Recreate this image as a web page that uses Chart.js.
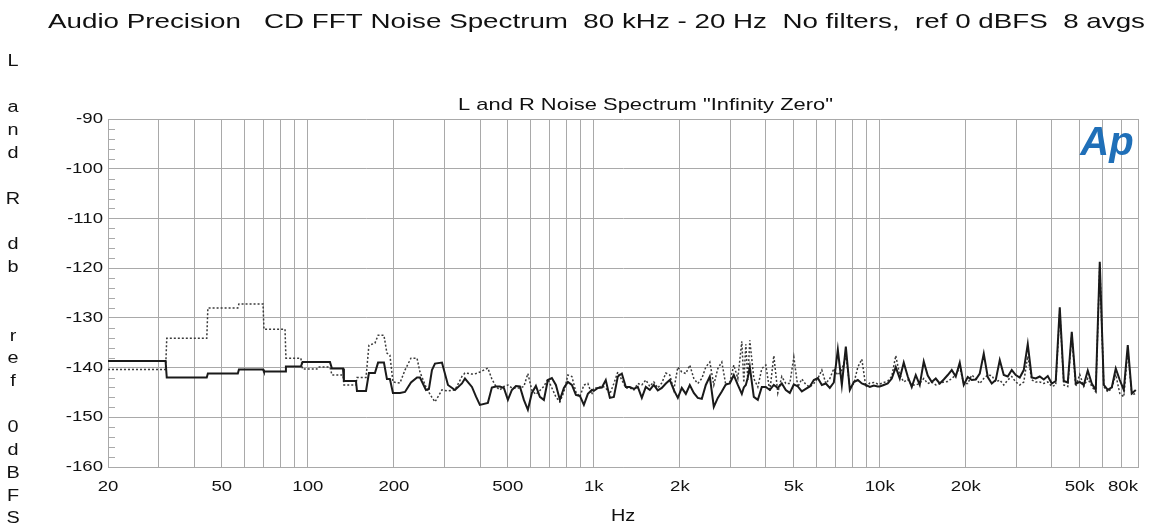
<!DOCTYPE html>
<html>
<head>
<meta charset="utf-8">
<title>CD FFT Noise Spectrum</title>
<script src="https://cdn.jsdelivr.net/npm/chart.js@4.4.1/dist/chart.umd.min.js"></script>
<style>
  html, body { margin: 0; padding: 0; background: #fff; }
  #wrap { width: 1158px; height: 527px; }
</style>
</head>
<body>
<div id="wrap"><canvas id="spectrum" width="1158" height="527"></canvas></div>
<script>
// FFT bin frequencies (Hz) shared by both channels
const freqs = [
  20, 31.8, 32.1, 44.3, 44.7, 56.9, 57.4, 69.7, 70.2, 83.2, 83.8, 94.5, 95.8, 107.6, 108.5, 119.5,
  121.4, 132.7, 133.7, 147.3, 148.5, 159.7, 163.5, 171.6, 176.0, 184.5, 189.0, 193.6, 198.4, 209.9,
  218.6, 229.4, 240.8, 246.6, 258.8, 265.1, 271.6, 278.3, 294.4, 309.0, 326.9, 345.8, 354.3, 374.8,
  387.0, 399.6, 426.1,
  440.0, 454.4, 469.3, 484.7, 500.6, 516.9, 533.9, 551.3, 569.4, 588.0, 607.3, 627.2, 647.7, 668.9,
  690.8, 713.4, 736.8, 760.9, 785.8, 811.5, 838.1, 865.5, 893.9, 923.1, 953.3, 984.0,
  1000, 1033, 1067, 1101, 1138, 1175, 1213, 1253, 1294, 1336, 1380, 1425, 1472, 1520, 1570, 1621,
  1674, 1729, 1786, 1844, 1904, 1967, 2031, 2098, 2166, 2237, 2310, 2386, 2464, 2545, 2628, 2714,
  2803, 2895, 2990, 3087, 3189, 3293, 3346, 3401, 3456, 3512, 3627, 3746, 3868, 3995, 4126, 4261,
  4400, 4544, 4693, 4847, 5006, 5169, 5339, 5513, 5694, 5880, 6073, 6272, 6477, 6689, 6908, 7134,
  7368, 7609, 7858, 8115, 8381, 8655, 8939, 9231, 9533, 9840,
  10000, 10327, 10665, 11014, 11375, 11747, 12131, 12528, 12938, 13362, 13799, 14251, 14717, 15199,
  15696, 16210, 16741, 17289, 17855, 18440, 19043, 19667, 20311, 20976, 21662, 22372, 23104, 23860,
  24642, 25448, 26281, 27142, 28030, 28948, 29896, 30874, 31885, 32929, 34007, 35120, 36270, 37457,
  38684, 39950, 41258, 42609, 44004, 45444, 46932, 48469, 50055, 51694, 53386, 55134, 56939, 58803,
  60728, 62716, 64769, 66890, 69079, 71341, 73676, 76088, 78579
];

// Left channel, dBFS (solid)
const leftDb = [
  -138.7, -138.7, -142.0, -142.0, -141.2, -141.2, -140.4, -140.4, -140.8, -140.8, -139.8, -139.8, -138.9, -138.9, -138.9, -138.9,
  -140.2, -140.2, -142.7, -142.7, -144.7, -144.7, -141.1, -141.1, -139.0, -139.0, -142.3, -142.3, -145.1, -145.1,
  -144.9, -143.0, -142.0, -142.0, -144.5, -144.3, -140.5, -139.2, -139.0, -143.5, -144.5, -143.2, -142.2, -143.9,
  -145.8, -147.5, -147.1,
  -144.0, -143.8, -143.8, -144.1, -146.5, -144.5, -143.7, -143.8, -146.5, -148.5, -145.1, -143.7, -145.9, -146.5,
  -142.5, -142.1, -143.5, -146.5, -144.1, -142.9, -143.5, -145.5, -145.7, -147.5, -145.3, -144.5,
  -144.7, -144.1, -144.0, -142.5, -146.1, -145.9, -141.8, -141.2, -143.9, -143.9, -144.3, -143.9, -146.1, -143.9, -144.5, -143.5,
  -144.6, -144.1, -143.2, -142.5, -144.5, -146.1, -144.1, -145.3, -143.5, -145.1, -146.1, -146.3, -143.5, -141.8, -147.9, -146.1,
  -144.8, -143.4, -143.2, -141.5, -143.5, -145.3, -144.0, -143.5, -142.0, -139.9, -145.9, -146.5, -143.9, -143.9, -144.5, -143.5,
  -144.1, -143.2, -144.5, -145.1, -143.4, -143.8, -144.8, -144.3, -143.8, -142.5, -142.1, -143.5, -143.2, -144.1, -143.0, -136.4,
  -143.5, -135.8, -144.5, -142.9, -142.5, -143.2, -143.5, -143.9, -143.6, -143.8,
  -143.8, -143.5, -143.2, -142.2, -139.9, -142.2, -139.0, -141.8, -143.9, -141.5, -143.5, -138.8, -141.6, -142.9,
  -142.2, -143.2, -142.4, -141.5, -140.5, -141.8, -139.0, -143.5, -141.9, -142.5, -142.4, -141.2, -137.2, -141.9,
  -143.2, -142.5, -138.5, -141.5, -141.8, -140.5, -141.5, -142.0, -140.5, -135.3, -142.0, -142.2, -141.8, -142.4,
  -141.7, -143.2, -142.7, -127.9, -142.7, -143.0, -132.8, -143.2, -142.9, -143.5, -140.6, -143.2, -144.5, -118.7,
  -143.5, -144.5, -144.0, -140.2, -142.5, -144.5, -135.5, -145.2, -144.5
];

// Right channel, dBFS (dotted)
const rightDb = [
  -140.4, -140.4, -134.1, -134.1, -128.0, -128.0, -127.2, -127.2, -132.3, -132.3, -138.1, -138.1, -140.3, -140.3, -139.9, -139.9,
  -141.5, -141.5, -143.5, -143.5, -142.0, -142.0, -135.5, -135.1, -133.5, -133.5, -137.1, -137.5, -142.9, -143.1,
  -140.5, -138.1, -138.1, -140.9, -143.9, -145.0, -146.0, -146.9, -144.5, -144.7, -144.5, -141.8, -141.1, -141.3,
  -141.2, -140.9, -140.1,
  -142.3, -143.8, -144.5, -143.8, -143.5, -144.1, -144.1, -144.1, -143.8, -141.2, -144.6, -145.4, -144.6, -143.8,
  -142.3, -144.1, -145.9, -146.9, -144.9, -141.5, -141.8, -144.9, -145.9, -143.5, -143.2, -145.4,
  -144.1, -144.1, -143.7, -144.1, -145.3, -143.2, -140.9, -142.5, -144.1, -144.1, -144.5, -143.2, -143.5, -142.5, -143.8, -142.9,
  -144.1, -143.1, -141.1, -141.5, -144.5, -139.9, -140.9, -141.2, -139.5, -142.2, -143.2, -142.2, -139.9, -138.9, -143.5, -140.2,
  -138.9, -143.5, -142.9, -139.5, -142.2, -134.7, -143.0, -135.3, -142.5, -134.5, -142.2, -143.9, -140.2, -139.5, -144.8, -137.6,
  -145.1, -141.8, -143.2, -143.2, -137.9, -143.9, -142.3, -143.4, -143.9, -143.2, -142.2, -140.5, -143.2, -142.2, -140.2, -141.5,
  -140.5, -137.5, -143.9, -143.2, -139.9, -138.3, -143.9, -143.1, -143.0, -143.3,
  -143.3, -143.0, -142.7, -141.8, -137.6, -141.5, -142.9, -142.4, -143.5, -143.5, -143.2, -142.2, -143.2, -142.9,
  -143.5, -143.2, -142.9, -142.8, -142.2, -141.5, -139.9, -143.2, -143.2, -141.5, -142.2, -143.2, -142.2, -141.5,
  -141.6, -142.9, -142.5, -143.5, -142.5, -141.8, -142.9, -143.5, -142.9, -137.7, -142.5, -142.9, -142.9, -143.2,
  -142.9, -143.8, -143.5, -128.5, -143.5, -143.8, -133.5, -143.8, -141.4, -143.8, -142.2, -143.8, -144.9, -119.2,
  -143.8, -144.9, -144.2, -141.4, -145.2, -145.9, -136.5, -145.5, -145.2
];

// vertical grid positions and labelled ticks
const gridHz = [
  20, 30, 40, 50, 60, 70, 80, 90,
  100, 200, 300, 400, 500, 600, 700, 800, 900,
  1000, 2000, 3000, 4000, 5000, 6000, 7000, 8000, 9000,
  10000, 20000, 30000, 40000, 50000, 60000, 70000, 80000
];
const xTickHz = [20, 50, 100, 200, 500, 1000, 2000, 5000, 10000, 20000, 50000, 80000];
const xTickText = ["20", "50", "100", "200", "500", "1k", "2k", "5k", "10k", "20k", "50k", "80k"];
const yTicks = [-90, -100, -110, -120, -130, -140, -150, -160];

const mainTitle = "Audio Precision   CD FFT Noise Spectrum  80 kHz - 20 Hz  No filters,  ref 0 dBFS  8 avgs";
const subTitle = 'L and R Noise Spectrum "Infinity Zero"';
const sideLabel = ["L", "", "a", "n", "d", "", "R", "", "d", "b", "", "", "r", "e", "f", "", "0", "d", "B", "F", "S"];

const FONT = '"Liberation Sans", Arial, Helvetica, sans-serif';
const GRID = "#a9a9a9";
const INK = "#111";
const WIDE = 1.24; // the original lettering is drawn wide

if (freqs.length !== leftDb.length || freqs.length !== rightDb.length) {
	console.error("length mismatch", freqs.length, leftDb.length, rightDb.length);
}

function wideText(ctx, text, x, y, sx, align) {
	ctx.save();
	ctx.translate(x, y);
	ctx.scale(sx, 1);
	ctx.textAlign = align;
	ctx.fillText(text, 0, 0);
	ctx.restore();
}

const textPlugin = {
	id: "apText",
	beforeDatasetsDraw(chart) {
		// short minor ticks every 2 dB along the left axis
		const ctx = chart.ctx;
		const area = chart.chartArea;
		const y = chart.scales.y;
		ctx.save();
		ctx.strokeStyle = GRID;
		ctx.lineWidth = 1;
		for (let v = -158; v < -90; v += 2) {
			if (v % 10 === 0) continue;
			const py = Math.round(y.getPixelForValue(v)) + 0.5;
			ctx.beginPath();
			ctx.moveTo(area.left, py);
			ctx.lineTo(area.left + 7, py);
			ctx.stroke();
		}
		ctx.restore();
	},
	afterDraw(chart) {
		const ctx = chart.ctx;
		const area = chart.chartArea;
		const xs = chart.scales.x;
		const ys = chart.scales.y;
		ctx.save();
		ctx.fillStyle = INK;
		ctx.textBaseline = "middle";

		// header, stretched to span the page like the original
		ctx.font = "21px " + FONT;
		const tw = ctx.measureText(mainTitle).width;
		wideText(ctx, mainTitle, 48, 22, 1097 / tw, "left");

		ctx.font = "17px " + FONT;
		const sw = ctx.measureText(subTitle).width;
		wideText(ctx, subTitle, 458, 105, 375 / sw, "left");

		// tick labels at the scale positions; the last one is kept inside the frame
		ctx.font = "15px " + FONT;
		xTickHz.forEach((v, i) => {
			const last = i === xTickHz.length - 1;
			const px = last ? area.right : xs.getPixelForValue(v);
			wideText(ctx, xTickText[i], px, 487, WIDE, last ? "right" : "center");
		});
		yTicks.forEach((v) => wideText(ctx, String(v), area.left - 5, ys.getPixelForValue(v), WIDE, "right"));

		ctx.font = "16px " + FONT;
		wideText(ctx, "Hz", (area.left + area.right) / 2, 517, WIDE, "center");
		sideLabel.forEach((ch, i) => wideText(ctx, ch, 13, 62 + i * 22.85, WIDE, "center"));

		ctx.font = "italic bold 40px " + FONT;
		ctx.fillStyle = "#1f6fb8";
		ctx.textBaseline = "alphabetic";
		ctx.textAlign = "center";
		ctx.fillText("Ap", 1107, 155);
		ctx.restore();
	},
};

new Chart(document.getElementById("spectrum"), {
	type: "line",
	data: {
		datasets: [
			{
				label: "L",
				data: freqs.map((f, i) => ({ x: f, y: leftDb[i] })),
				borderColor: "#1a1a1a",
				borderWidth: 2,
				pointRadius: 0,
				tension: 0,
				fill: false,
			},
			{
				label: "R",
				data: freqs.map((f, i) => ({ x: f, y: rightDb[i] })),
				borderColor: "#3a3a3a",
				borderWidth: 1.5,
				borderDash: [2, 2],
				pointRadius: 0,
				tension: 0,
				fill: false,
			},
		],
	},
	options: {
		responsive: false,
		animation: false,
		layout: { padding: { top: 119, right: 20, left: 0, bottom: 0 } },
		plugins: {
			legend: { display: false },
			title: { display: false },
			tooltip: { enabled: false },
		},
		scales: {
			x: {
				type: "logarithmic",
				min: 20,
				max: 80000,
				afterBuildTicks: (scale) => {
					scale.ticks = gridHz.map((v) => ({ value: v }));
				},
				afterFit: (scale) => {
					scale.height = 60;
				},
				grid: { color: GRID, lineWidth: 1, drawTicks: false },
				border: { color: GRID },
				ticks: { display: false },
			},
			y: {
				min: -160,
				max: -90,
				afterBuildTicks: (scale) => {
					scale.ticks = yTicks.map((v) => ({ value: v }));
				},
				afterFit: (scale) => {
					scale.width = 108;
				},
				grid: { color: GRID, lineWidth: 1, drawTicks: false },
				border: { color: GRID },
				ticks: { display: false },
			},
		},
	},
	plugins: [textPlugin],
});
</script>
</body>
</html>
